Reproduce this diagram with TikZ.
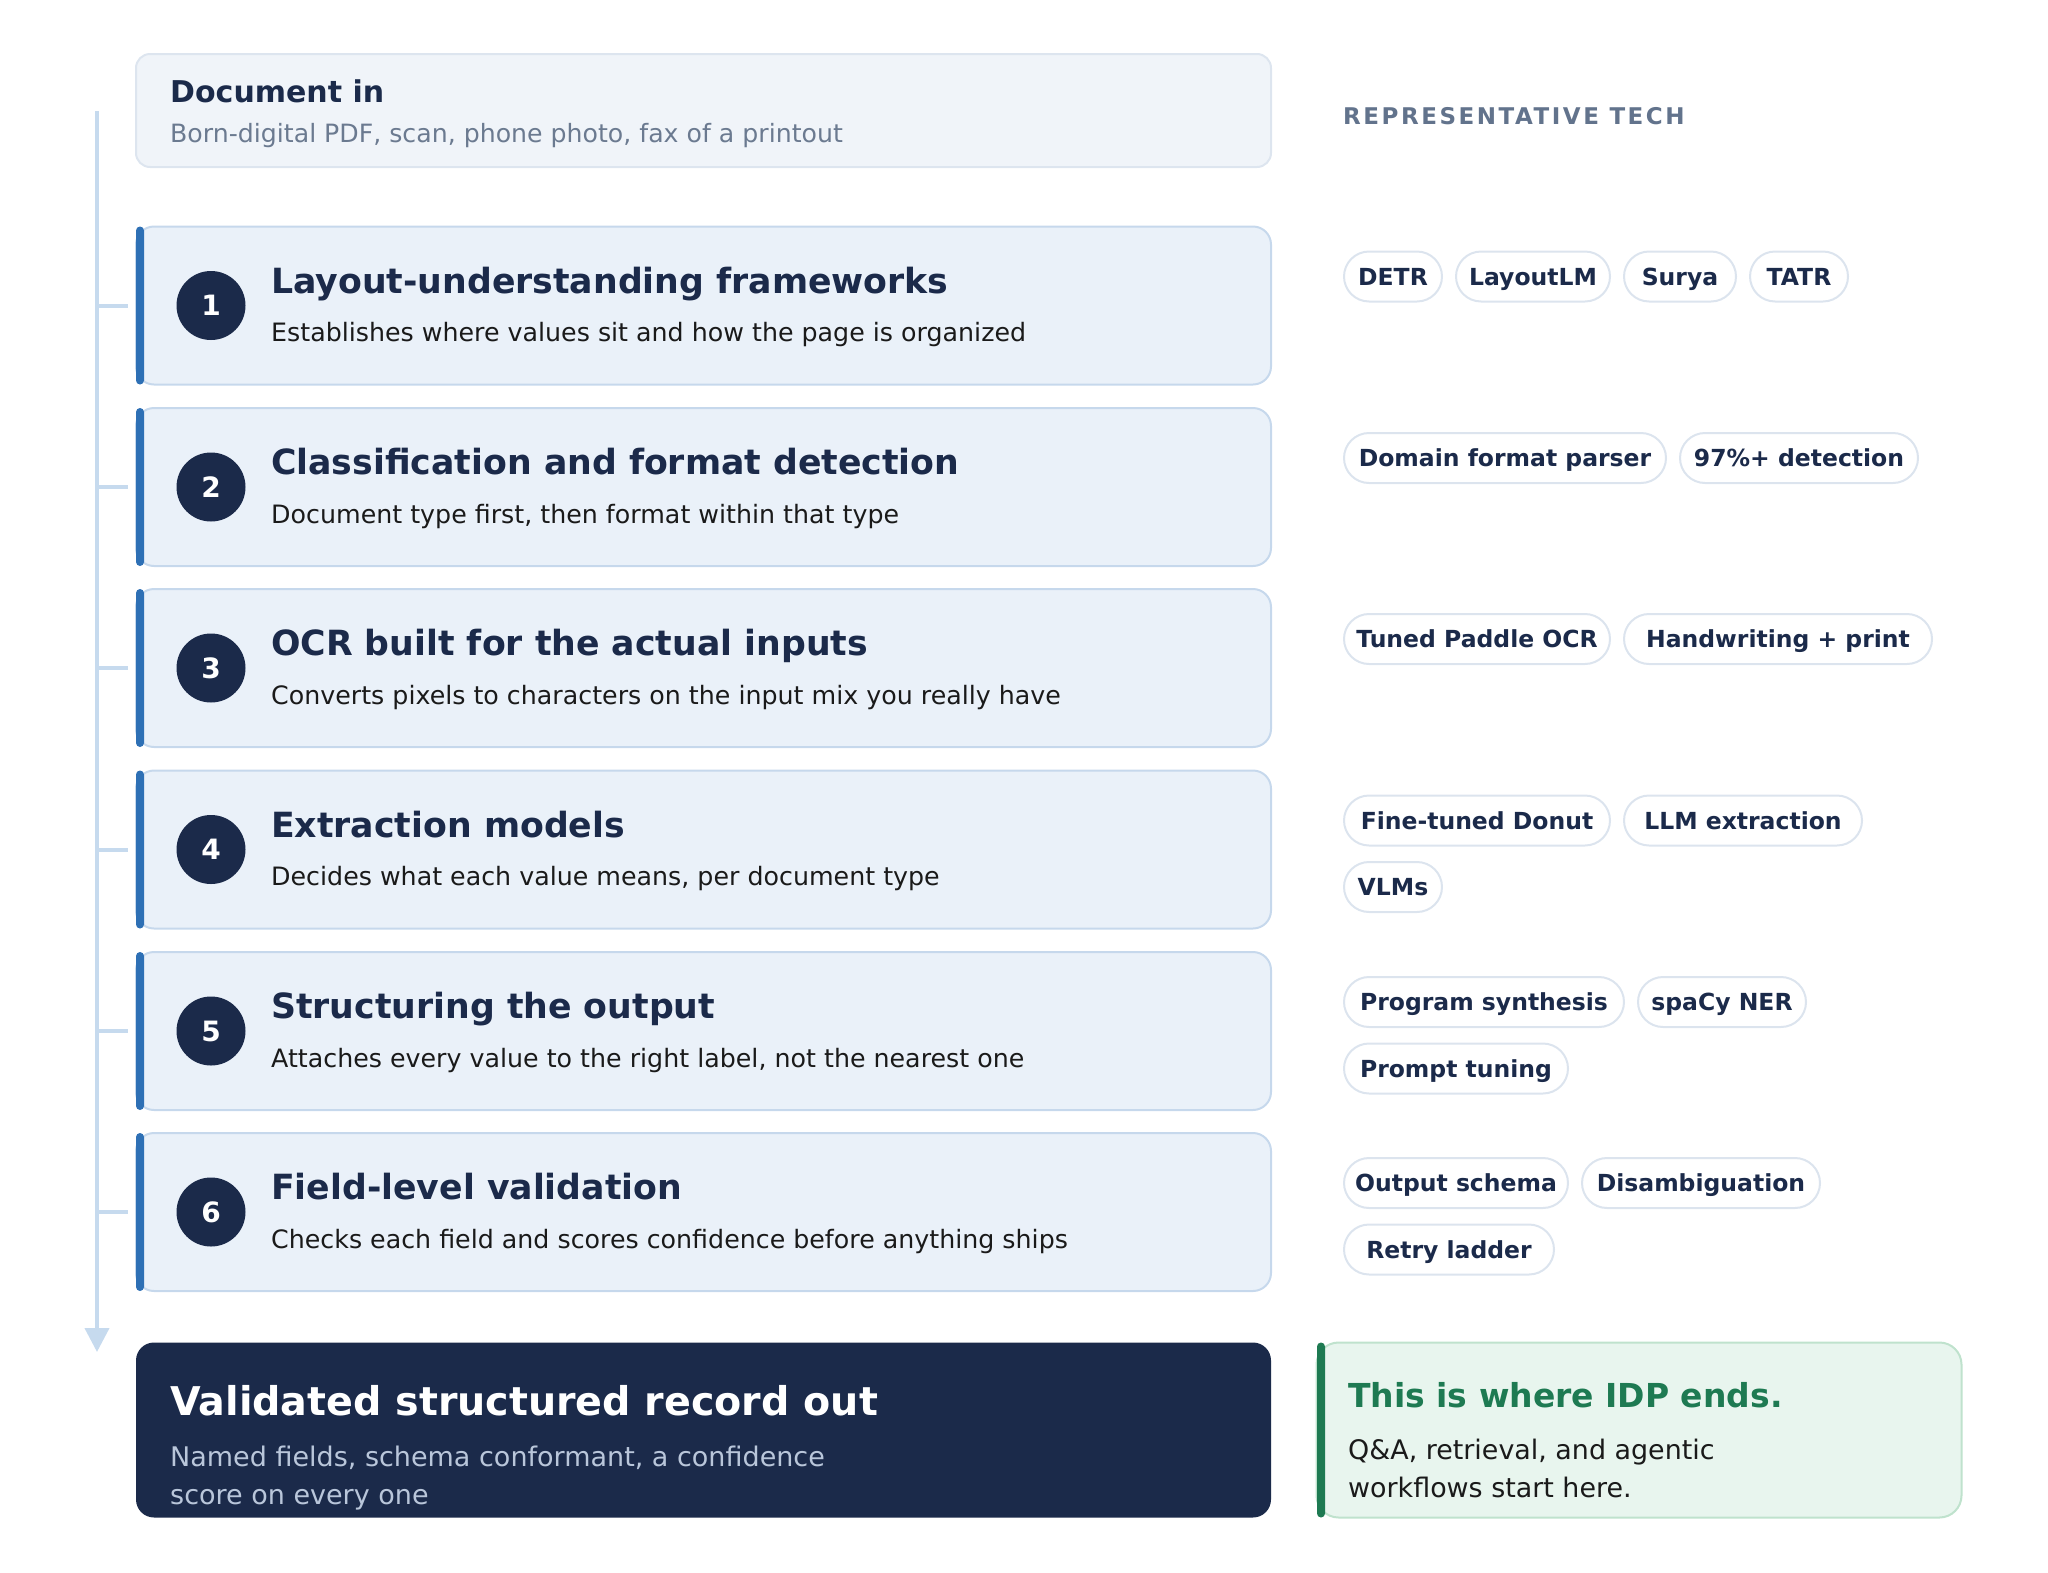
\documentclass[tikz,border=0pt]{standalone}
\usepackage{fontspec}
\setmainfont{DejaVu Sans}
\newfontfamily\trackfont{DejaVu Sans}[LetterSpace=11]
\usetikzlibrary{positioning,arrows.meta}

\definecolor{navy}{HTML}{1B2A4A}
\definecolor{accent}{HTML}{2E70B5}
\definecolor{stepfill}{HTML}{EAF1F9}
\definecolor{stepline}{HTML}{C6D8EC}
\definecolor{docfill}{HTML}{F0F4F9}
\definecolor{docline}{HTML}{DDE5EF}
\definecolor{spinecol}{HTML}{C6DAEE}
\definecolor{graytext}{HTML}{6B7A90}
\definecolor{headgray}{HTML}{62738C}
\definecolor{pillline}{HTML}{DCE4EE}
\definecolor{bodytext}{HTML}{1A1A1A}
\definecolor{endsubcol}{HTML}{B9C6DA}
\definecolor{green}{HTML}{1E7A52}
\definecolor{notefill}{HTML}{E8F5EE}
\definecolor{noteline}{HTML}{BFE2CD}

\begin{document}
\begin{tikzpicture}[x=1pt,y=-1pt]
        % Define styles
        \tikzset{
            docbox/.style={rectangle, draw=docline, fill=docfill, line width=2pt, rounded corners=14pt, minimum width=1135pt, minimum height=113pt, inner sep=0},
            stepbox/.style={rectangle, draw=stepline, fill=stepfill, line width=2pt, rounded corners=18pt, minimum width=1135pt, minimum height=158pt, inner sep=0},
            stepbar/.style={rectangle, fill=accent, rounded corners=4pt, minimum width=8pt, minimum height=158pt, inner sep=0},
            num/.style={circle, fill=navy, text=white, minimum size=69pt, inner sep=0, font=\fontsize{28}{34}\selectfont\bfseries},
            txt/.style={anchor=base west, inner sep=0},
            steptitle/.style={txt, text=navy, font=\fontsize{34.7}{42}\selectfont\bfseries},
            stepsub/.style={txt, text=bodytext, font=\fontsize{25.3}{30}\selectfont},
            pill/.style={rectangle, draw=pillline, fill=white, line width=2pt, rounded corners=25pt, minimum height=50pt, inner xsep=0, inner ysep=0, text height=17pt, text depth=0pt, text=navy, font=\fontsize{23.5}{28}\selectfont\bfseries},
            spine/.style={draw=spinecol, line width=4pt},
            tickline/.style={draw=spinecol, line width=4pt},
            endbox/.style={rectangle, fill=navy, rounded corners=18pt, minimum width=1135pt, minimum height=175pt, inner sep=0},
            notebox/.style={rectangle, draw=noteline, fill=notefill, line width=2pt, rounded corners=22pt, minimum width=645pt, minimum height=175pt, inner sep=0},
            notebar/.style={rectangle, fill=green, rounded corners=4pt, minimum width=8pt, minimum height=175pt, inner sep=0}
        }
        \useasboundingbox (0,0) rectangle (2048,1572);

        % Input
        \node[docbox] (docin) at (703.5,110.5) {};
        \node[txt, text=navy, font=\fontsize{30}{36}\selectfont\bfseries] (doctitle) at (170,102) {Document in};
        \node[txt, text=graytext, font=\fontsize{25.2}{30}\selectfont] (docsub) at (170,142.5) {Born-digital PDF, scan, phone photo, fax of a printout};
        \node[txt, text=headgray, font=\fontsize{23}{28}\trackfont\bfseries] (techhead) at (1343,124.5) {REPRESENTATIVE TECH};

        % Steps
        \node[stepbox] (step1) at (703.5,305.5) {};
        \node[stepbar] (bar1) at (140,305.5) {};
        \node[num] (num1) at (211,305.5) {1};
        \node[steptitle] (title1) at (271,293) {Layout-understanding frameworks};
        \node[stepsub] (sub1) at (271,341.5) {Establishes where values sit and how the page is organized};

        \node[stepbox] (step2) at (703.5,487) {};
        \node[stepbar] (bar2) at (140,487) {};
        \node[num] (num2) at (211,487) {2};
        \node[steptitle] (title2) at (271,474.5) {Classification and format detection};
        \node[stepsub] (sub2) at (271,523) {Document type first, then format within that type};

        \node[stepbox] (step3) at (703.5,668) {};
        \node[stepbar] (bar3) at (140,668) {};
        \node[num] (num3) at (211,668) {3};
        \node[steptitle] (title3) at (271,655.5) {OCR built for the actual inputs};
        \node[stepsub] (sub3) at (271,704) {Converts pixels to characters on the input mix you really have};

        \node[stepbox] (step4) at (703.5,849.5) {};
        \node[stepbar] (bar4) at (140,849.5) {};
        \node[num] (num4) at (211,849.5) {4};
        \node[steptitle] (title4) at (271,837) {Extraction models};
        \node[stepsub] (sub4) at (271,885.5) {Decides what each value means, per document type};

        \node[stepbox] (step5) at (703.5,1031) {};
        \node[stepbar] (bar5) at (140,1031) {};
        \node[num] (num5) at (211,1031) {5};
        \node[steptitle] (title5) at (271,1018.5) {Structuring the output};
        \node[stepsub] (sub5) at (271,1067) {Attaches every value to the right label, not the nearest one};

        \node[stepbox] (step6) at (703.5,1212) {};
        \node[stepbar] (bar6) at (140,1212) {};
        \node[num] (num6) at (211,1212) {6};
        \node[steptitle] (title6) at (271,1199.5) {Field-level validation};
        \node[stepsub] (sub6) at (271,1248) {Checks each field and scores confidence before anything ships};

        % Tech pills
        \node[pill, minimum width=98pt, anchor=west] (detr) at (1343,276.5) {DETR};
        \node[pill, minimum width=154pt, right=12pt of detr] (layoutlm) {LayoutLM};
        \node[pill, minimum width=112pt, right=12pt of layoutlm] (surya) {Surya};
        \node[pill, minimum width=98pt, right=12pt of surya] (tatr) {TATR};

        \node[pill, minimum width=322pt, anchor=west] (parser) at (1343,458) {Domain format parser};
        \node[pill, minimum width=238pt, right=12pt of parser] (detect) {97\%+ detection};

        \node[pill, minimum width=266pt, anchor=west] (paddle) at (1343,639) {Tuned Paddle OCR};
        \node[pill, minimum width=308pt, right=12pt of paddle] (handwriting) {Handwriting + print};

        \node[pill, minimum width=266pt, anchor=west] (donut) at (1343,820.5) {Fine-tuned Donut};
        \node[pill, minimum width=238pt, right=12pt of donut] (llm) {LLM extraction};
        \node[pill, minimum width=98pt, anchor=west] (vlms) at (1343,887) {VLMs};

        \node[pill, minimum width=280pt, anchor=west] (synthesis) at (1343,1002) {Program synthesis};
        \node[pill, minimum width=168pt, right=12pt of synthesis] (spacy) {spaCy NER};
        \node[pill, minimum width=224pt, anchor=west] (prompt) at (1343,1068.5) {Prompt tuning};

        \node[pill, minimum width=224pt, anchor=west] (schema) at (1343,1183) {Output schema};
        \node[pill, minimum width=238pt, right=12pt of schema] (disamb) {Disambiguation};
        \node[pill, minimum width=210pt, anchor=west] (retry) at (1343,1249.5) {Retry ladder};

        % Output
        \node[endbox] (record) at (703.5,1430) {};
        \node[txt, text=white, font=\fontsize{39.6}{48}\selectfont\bfseries] (recordtitle) at (170,1415.5) {Validated structured record out};
        \node[txt, text=endsubcol, font=\fontsize{27}{32}\selectfont] (recordsub1) at (170,1466.5) {Named fields, schema conformant, a confidence};
        \node[txt, text=endsubcol, font=\fontsize{27}{32}\selectfont] (recordsub2) at (170,1504.5) {score on every one};

        \node[notebox] (note) at (1639,1430) {};
        \node[notebar] (notebar) at (1321,1430) {};
        \node[txt, text=green, font=\fontsize{33}{40}\selectfont\bfseries] (notetitle) at (1348,1407) {This is where IDP ends.};
        \node[txt, text=bodytext, font=\fontsize{26.9}{32}\selectfont] (notebody1) at (1348,1459) {Q\&A, retrieval, and agentic};
        \node[txt, text=bodytext, font=\fontsize{26.9}{32}\selectfont] (notebody2) at (1348,1497) {workflows start here.};

        % Timeline
        \coordinate (spinetop) at (97,111);
        \coordinate (spineend) at (97,1352);
        \draw[spine, -{Triangle[width=24pt,length=24pt]}, color=spinecol] (spinetop) -- (spineend);
        \coordinate (tick1) at (97,305.5);
        \coordinate (tick2) at (97,487);
        \coordinate (tick3) at (97,668);
        \coordinate (tick4) at (97,849.5);
        \coordinate (tick5) at (97,1031);
        \coordinate (tick6) at (97,1212);
        \draw[tickline, shorten >=8pt] (tick1) -- (bar1.west);
        \draw[tickline, shorten >=8pt] (tick2) -- (bar2.west);
        \draw[tickline, shorten >=8pt] (tick3) -- (bar3.west);
        \draw[tickline, shorten >=8pt] (tick4) -- (bar4.west);
        \draw[tickline, shorten >=8pt] (tick5) -- (bar5.west);
        \draw[tickline, shorten >=8pt] (tick6) -- (bar6.west);
    \end{tikzpicture}
\end{document}
